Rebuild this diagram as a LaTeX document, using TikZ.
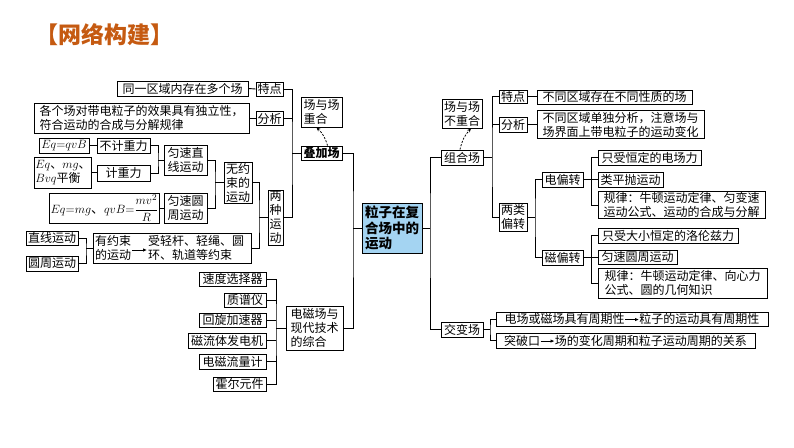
\documentclass[tikz,border=0pt]{standalone}
\usepackage{fontspec}
\usepackage{amsmath}
\setmainfont{Noto Sans CJK SC}
\usetikzlibrary{arrows.meta}
\usetikzlibrary{calc}
\definecolor{titlered}{RGB}{197,90,17}
\definecolor{mainblue}{RGB}{164,212,242}
\newcommand{\jt}{\tikz[baseline=-4pt]\draw[line width=0.8pt,-{Latex[length=4pt,width=3.5pt]}] (0,0)--(14pt,0);}

\begin{document}
\begin{tikzpicture}[x=1pt, y=-1pt,
	box/.style={draw, line width=0.9pt, inner sep=1pt, align=left, font=\fontsize{12}{14}\selectfont},
	plain/.style={inner sep=1pt, align=left, font=\fontsize{12}{14}\selectfont},
	link/.style={line width=0.9pt},
	hint/.style={line width=0.8pt, dash pattern=on 2pt off 1.5pt, -{Stealth[length=4pt,width=3.5pt]}}]
	\useasboundingbox (0,0) rectangle (794,447);

	\node[text=titlered, font=\fontsize{23}{26}\selectfont\bfseries] (title) at (104,35) {【网络构建】};

	% left part
	\node[box, minimum width=131pt, minimum height=15pt] (tongyi) at (182.5,88.5) {同一区域内存在多个场};
	\node[box, minimum width=27pt, minimum height=14pt] (tedianL) at (269.5,89) {特点};
	\node[box, minimum width=41pt, minimum height=30pt] (chongheL) at (321.5,112) {场与场\\重合};
	\node[box, minimum width=215pt, minimum height=30pt] (gege) at (141.5,118) {各个场对带电粒子的效果具有独立性，\\符合运动的合成与分解规律};
	\node[box, minimum width=27pt, minimum height=14pt] (fenxiL) at (269.5,118.5) {分析};
	\node[box, minimum width=41pt, minimum height=14pt, font=\fontsize{12}{14}\selectfont\bfseries] (diejia) at (321.5,153) {叠加场};

	\node[box, minimum width=50pt, minimum height=15pt, font=\fontsize{13}{14}\selectfont] (eqqvb) at (64,145.5) {$Eq{=}qvB$};
	\node[box, minimum width=53pt, minimum height=15pt] (bujizl) at (123.5,145.5) {不计重力};
	\node[box, minimum width=52pt, minimum height=31pt] (eqmg) at (63,172.5) {$Eq$、$mg$、\\$Bvq$平衡};
	\node[box, minimum width=53pt, minimum height=16pt] (jizl) at (123.5,173) {计重力};
	\node[box, minimum width=43pt, minimum height=30pt] (zhixian) at (185.5,160) {匀速直\\线运动};
	\node[box, minimum width=105pt, minimum height=30pt, font=\fontsize{13}{14}\selectfont] (eqmgR) at (104.5,208) {$Eq{=}mg$、$qvB{=}\dfrac{mv^2}{R}$};
	\node[box, minimum width=43pt, minimum height=30pt] (yuanzhou) at (185.5,208) {匀速圆\\周运动};
	\node[box, minimum width=28pt, minimum height=41pt] (wuyueshu) at (238,182.5) {无约\\束的\\运动};
	\node[box, minimum width=15pt, minimum height=55pt] (liangzhong) at (275.5,217.5) {两\\种\\运\\动};

	\node[box, minimum width=52pt, minimum height=14pt] (zhixianyd) at (52,238) {直线运动};
	\node[box, minimum width=52pt, minimum height=15pt] (yuanzhouyd) at (52,263.5) {圆周运动};
	\node[box, minimum width=158pt, minimum height=30pt] (youyue) at (172,248) {};
	\node[plain, anchor=west] (yy1) at (94,248) {有约束\\的运动};
	\node[plain, anchor=west] (yy2) at (147,248) {受轻杆、轻绳、圆\\环、轨道等约束};

	\node[box, minimum width=67pt, minimum height=14pt] (sudu) at (232.5,279) {速度选择器};
	\node[box, minimum width=42pt, minimum height=14pt] (zhipu) at (245,300) {质谱仪};
	\node[box, minimum width=67pt, minimum height=14pt] (huixuan) at (232.5,320) {回旋加速器};
	\node[box, minimum width=78pt, minimum height=15pt] (cliuti) at (227,340.5) {磁流体发电机};
	\node[box, minimum width=67pt, minimum height=15pt] (dianci) at (232.5,361.5) {电磁流量计};
	\node[box, minimum width=53pt, minimum height=14pt] (huoer) at (239.5,384) {霍尔元件};
	\node[box, minimum width=57pt, minimum height=44pt] (xiandai) at (314.5,328) {电磁场与\\现代技术\\的综合};

	% centre
	\node[box, fill=mainblue, line width=1pt, inner sep=2pt, minimum width=60pt, minimum height=50pt, font=\fontsize{13.5}{15.5}\selectfont\bfseries] (main) at (392,228) {粒子在复\\合场中的\\运动};

	% right part
	\node[box, minimum width=40pt, minimum height=29pt] (buchonghe) at (462,113.5) {场与场\\不重合};
	\node[box, minimum width=42pt, minimum height=15pt] (zuhe) at (462,157.5) {组合场};
	\node[box, minimum width=28pt, minimum height=13pt] (tedianR) at (513,96.5) {特点};
	\node[box, minimum width=155pt, minimum height=14pt] (butong) at (614.5,97) {不同区域存在不同性质的场};
	\node[box, minimum width=28pt, minimum height=15pt] (fenxiR) at (513,124.5) {分析};
	\node[box, minimum width=167pt, minimum height=27pt] (dandu) at (620.5,124.5) {不同区域单独分析，注意场与\\场界面上带电粒子的运动变化};
	\node[box, minimum width=28pt, minimum height=28pt] (liangl) at (513,217) {两类\\偏转};

	\node[box, minimum width=41pt, minimum height=15pt] (dianpz) at (562.5,179.5) {电偏转};
	\node[box, minimum width=103pt, minimum height=15pt] (hengding) at (649.5,157.5) {只受恒定的电场力};
	\node[box, minimum width=65pt, minimum height=15pt] (leipingpao) at (630.5,179.5) {类平抛运动};
	\node[box, minimum width=167pt, minimum height=26pt] (guilv1) at (681.5,205) {规律：牛顿运动定律、匀变速\\运动公式、运动的合成与分解};

	\node[box, minimum width=140pt, minimum height=15pt] (lorentz) at (668,235.5) {只受大小恒定的洛伦兹力};
	\node[box, minimum width=41pt, minimum height=15pt] (cipz) at (562.5,257.5) {磁偏转};
	\node[box, minimum width=79pt, minimum height=14pt] (yuanzhouR) at (637.5,257) {匀速圆周运动};
	\node[box, minimum width=169pt, minimum height=30pt] (guilv2) at (682.5,283) {规律：牛顿运动定律、向心力\\公式、圆的几何知识};

	\node[box, minimum width=42pt, minimum height=15pt] (jiaobian) at (462,329.5) {交变场};
	\node[box, minimum width=272pt, minimum height=14pt] (zhouqi) at (632,319) {电场或磁场具有周期性\jt 粒子的运动具有周期性};
	\node[box, minimum width=259pt, minimum height=15pt] (tupo) at (625.5,340.5) {突破口\jt 场的变化周期和粒子运动周期的关系};

	% bus points
	\coordinate (b1) at (292,153);
	\coordinate (b2) at (158,160);
	\coordinate (b3) at (215,182.5);
	\coordinate (b4) at (259,217.5);
	\coordinate (b5) at (86,248);
	\coordinate (b6) at (276,328);
	\coordinate (b7) at (353,228);
	\coordinate (b8) at (430,228);
	\coordinate (b9) at (492,157.5);
	\coordinate (b10) at (535,217);
	\coordinate (b11) at (591,179.5);
	\coordinate (b12) at (591,257.5);
	\coordinate (b13) at (490,329.5);

	\draw[link] (tongyi.east) -- (tedianL.west);
	\draw[link] (gege.east) -- (gege.east -| fenxiL.west);
	\draw[link] (tedianL.east) -| (b1) |- (liangzhong.east);
	\draw[link] (fenxiL.east) -- (fenxiL.east -| b1);
	\draw[link] (b1) -- (diejia.west);
	\draw[hint] ($(diejia.north)+(6,0)$) to[bend right=15] ($(chongheL.south)+(-5,0)$);

	\draw[link] (eqqvb.east) -- (bujizl.west);
	\draw[link] (eqmg.east) -- (eqmg.east -| jizl.west);
	\draw[link] (bujizl.east) -| (b2) |- (jizl.east);
	\draw[link] (b2) -- (zhixian.west);
	\draw[link] (eqmgR.east) -- (yuanzhou.west);
	\draw[link] (zhixian.east) -| (b3) |- (yuanzhou.east);
	\draw[link] (b3) -- (wuyueshu.west);
	\draw[link] (wuyueshu.east) -| (b4) |- (youyue.east);
	\draw[link] (b4) -- (liangzhong.west);
	\draw[link] (zhixianyd.east) -| (b5) |- (yuanzhouyd.east);
	\draw[link] (b5) -- (youyue.west);
	\draw[line width=0.8pt, -{Latex[length=4pt,width=3.5pt]}] ([yshift=-2pt]yy1.east) -- ([yshift=-2pt]yy2.west);

	\draw[link] (sudu.east) -| (b6) |- (huoer.east);
	\draw[link] (zhipu.east) -- (zhipu.east -| b6);
	\draw[link] (huixuan.east) -- (huixuan.east -| b6);
	\draw[link] (cliuti.east) -- (cliuti.east -| b6);
	\draw[link] (dianci.east) -- (dianci.east -| b6);
	\draw[link] (b6) -- (xiandai.west);

	\draw[link] (diejia.east) -| (b7) |- (xiandai.east);
	\draw[link] (b7) -- (main.west);
	\draw[link] (main.east) -- (b8);
	\draw[link] (zuhe.west) -| (b8) |- (jiaobian.west);

	\draw[hint] ($(zuhe.north)+(-2,0)$) to[bend left=15] ($(buchonghe.south)+(9,0)$);
	\draw[link] (tedianR.west) -| (b9) |- (liangl.west);
	\draw[link] (fenxiR.west) -- (fenxiR.west -| b9);
	\draw[link] (zuhe.east) -- (b9);
	\draw[link] (tedianR.east) -- (tedianR.east -| butong.west);
	\draw[link] (fenxiR.east) -- (dandu.west);

	\draw[link] (liangl.east) -- (b10);
	\draw[link] (dianpz.west) -| (b10) |- (cipz.west);
	\draw[link] (dianpz.east) -- (leipingpao.west);
	\draw[link] (hengding.west) -| (b11) |- (guilv1.west);
	\draw[link] (cipz.east) -- (cipz.east -| yuanzhouR.west);
	\draw[link] (lorentz.west) -| (b12) |- (guilv2.west);

	\draw[link] (jiaobian.east) -- (b13);
	\draw[link] (zhouqi.west) -| (b13) |- (tupo.west);
\end{tikzpicture}
\end{document}
